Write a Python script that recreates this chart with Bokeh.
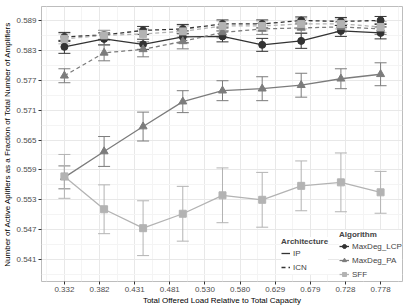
from bokeh.plotting import figure
from bokeh.models import (ColumnDataSource, FixedTicker, Whisker, TeeHead, Legend,
                          LegendItem, Range1d, PrintfTickFormatter)
from bokeh.embed import file_html
from bokeh.resources import INLINE

# ---- data ----
load = [0.332, 0.388, 0.443, 0.499, 0.555, 0.611, 0.666, 0.722, 0.778]
x_ticks = [0.332, 0.3816, 0.4311, 0.4807, 0.5302, 0.5798, 0.6293, 0.6789, 0.7284, 0.778]
x_tick_labels = ["0.332", "0.382", "0.431", "0.481", "0.530", "0.580", "0.629", "0.679", "0.728", "0.778"]
y_ticks = [0.541, 0.547, 0.553, 0.559, 0.565, 0.571, 0.577, 0.583, 0.589]

lcp_ip = [0.5837, 0.5853, 0.5842, 0.5857, 0.5858, 0.5841, 0.5849, 0.5869, 0.5865]
lcp_ip_err = [0.0013, 0.0012, 0.0010, 0.0012, 0.0011, 0.0013, 0.0015, 0.0011, 0.0012]
lcp_icn = [0.5857, 0.5861, 0.5870, 0.5873, 0.5883, 0.5883, 0.5890, 0.5888, 0.5890]
lcp_icn_err = [0.0009, 0.0009, 0.0008, 0.0009, 0.0008, 0.0008, 0.0007, 0.0008, 0.0008]
pa_ip = [0.5575, 0.5627, 0.5677, 0.5727, 0.5749, 0.5753, 0.5760, 0.5773, 0.5782]
pa_ip_err = [0.0023, 0.0030, 0.0029, 0.0022, 0.0020, 0.0024, 0.0024, 0.0020, 0.0023]
pa_icn = [0.5779, 0.5825, 0.5832, 0.5848, 0.5866, 0.5873, 0.5875, 0.5877, 0.5873]
pa_icn_err = [0.0014, 0.0016, 0.0015, 0.0015, 0.0011, 0.0011, 0.0010, 0.0010, 0.0011]
sff_ip = [0.5577, 0.5511, 0.5473, 0.5502, 0.5539, 0.5530, 0.5558, 0.5565, 0.5545]
sff_ip_err = [0.0044, 0.0049, 0.0055, 0.0055, 0.0055, 0.0055, 0.0050, 0.0059, 0.0042]
sff_icn = [0.5853, 0.5860, 0.5863, 0.5868, 0.5879, 0.5879, 0.5883, 0.5883, 0.5877]
sff_icn_err = [0.0010, 0.0010, 0.0010, 0.0011, 0.0010, 0.0010, 0.0010, 0.0010, 0.0011]

algorithms = ["MaxDeg_LCP", "MaxDeg_PA", "SFF"]
architectures = ["IP", "ICN"]

C_LCP, C_PA, C_SFF = "#333333", "#7c7c7c", "#b3b3b3"
FONT = "Liberation Sans"

p = figure(width=409, height=307, output_backend="svg", toolbar_location=None,
           x_range=Range1d(0.2997, 0.8089), y_range=Range1d(0.5366, 0.5918),
           min_border_top=6, min_border_right=7, min_border_left=39, min_border_bottom=25)

p.background_fill_color = "white"
p.border_fill_color = "white"
p.outline_line_color = "#bdbdbd"
p.outline_line_width = 1

x_minor = [x_ticks[0] - (x_ticks[1] - x_ticks[0]) / 2] + \
          [(a + b) / 2 for a, b in zip(x_ticks[:-1], x_ticks[1:])] + \
          [x_ticks[-1] + (x_ticks[1] - x_ticks[0]) / 2]
y_minor = [y_ticks[0] - 0.003] + [(a + b) / 2 for a, b in zip(y_ticks[:-1], y_ticks[1:])] + [y_ticks[-1] + 0.003]

p.xaxis.ticker = FixedTicker(ticks=x_ticks, minor_ticks=x_minor)
p.yaxis.ticker = FixedTicker(ticks=y_ticks, minor_ticks=y_minor)
p.xaxis.major_label_overrides = dict(zip(x_ticks, x_tick_labels))
p.yaxis.formatter = PrintfTickFormatter(format="%.3f")

for ax in (p.xaxis, p.yaxis):
    ax.axis_line_color = None
    ax.major_tick_line_color = "#333333"
    ax.major_tick_out = 3
    ax.major_tick_in = 0
    ax.minor_tick_out = 0
    ax.minor_tick_in = 0
    ax.major_label_text_font = FONT
    ax.major_label_text_font_size = "8px"
    ax.major_label_text_color = "#4d4d4d"
    ax.major_label_standoff = 2
    ax.axis_label_text_font = FONT
    ax.axis_label_text_font_size = "8px"
    ax.axis_label_text_font_style = "normal"
    ax.axis_label_text_color = "black"
    ax.axis_label_standoff = 1

p.xaxis.axis_label = "Total Offered Load Relative to Total Capacity"
p.yaxis.axis_label = "Number of Active Aplifiers as a Fraction of Total Number of Amplifiers"

for g in (p.xgrid, p.ygrid):
    g.grid_line_color = "#e8e8e8"
    g.grid_line_width = 1
    g.minor_grid_line_color = "#f4f4f4"
    g.minor_grid_line_width = 1

series = [
    (lcp_ip, lcp_ip_err, C_LCP, "solid", "circle", 7),
    (pa_ip, pa_ip_err, C_PA, "solid", "triangle", 8),
    (sff_ip, sff_ip_err, C_SFF, "solid", "square", 7),
    (lcp_icn, lcp_icn_err, C_LCP, "4 3", "circle", 7),
    (pa_icn, pa_icn_err, C_PA, "4 3", "triangle", 8),
    (sff_icn, sff_icn_err, C_SFF, "4 3", "square", 7),
]

rends = {}
for vals, err, col, dash, marker, size in series:
    src = ColumnDataSource(dict(x=load, y=vals,
                                upper=[v + e for v, e in zip(vals, err)],
                                lower=[v - e for v, e in zip(vals, err)]))
    wh = Whisker(source=src, base="x", upper="upper", lower="lower",
                 line_color=col, line_width=1,
                 upper_head=TeeHead(size=12, line_color=col, line_width=1),
                 lower_head=TeeHead(size=12, line_color=col, line_width=1))
    p.add_layout(wh)

for vals, err, col, dash, marker, size in series:
    ln = p.line(load, vals, line_color=col, line_width=1.3, line_dash=dash)
    sc = p.scatter(load, vals, marker=marker, size=size, fill_color=col, line_color=col)
    rends[(col, dash)] = (ln, sc)


def style(leg, gw):
    leg.label_text_font = FONT
    leg.label_text_font_size = "8px"
    leg.title_text_font = FONT
    leg.title_text_font_size = "8px"
    leg.title_text_font_style = "bold"
    leg.glyph_width = gw
    leg.glyph_height = 14
    leg.label_height = 14
    leg.spacing = 0
    leg.padding = 0
    leg.margin = 0
    leg.label_standoff = 3
    leg.title_standoff = 0
    leg.border_line_color = None
    leg.background_fill_color = "white"
    leg.background_fill_alpha = 1.0


arch_leg = Legend(items=[LegendItem(label=architectures[0], renderers=[rends[(C_LCP, "solid")][0]]),
                         LegendItem(label=architectures[1], renderers=[rends[(C_LCP, "4 3")][0]])],
                  title="Architecture", location=(240, 7))
style(arch_leg, 9)

alg_leg = Legend(items=[LegendItem(label=algorithms[0], renderers=list(rends[(C_LCP, "solid")])),
                        LegendItem(label=algorithms[1], renderers=list(rends[(C_PA, "solid")])),
                        LegendItem(label=algorithms[2], renderers=list(rends[(C_SFF, "solid")]))],
                 title="Algorithm", location=(298, 0))
style(alg_leg, 10)

p.add_layout(arch_leg)
p.add_layout(alg_leg)

open("out.html", "w").write(file_html(p, INLINE))
